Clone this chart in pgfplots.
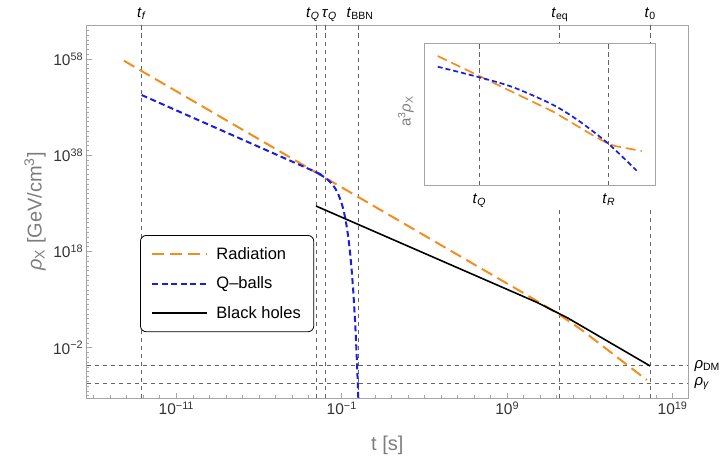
\documentclass[border=0pt]{standalone}
\usepackage{fontspec}
\setmainfont{Liberation Sans}
\usepackage{pgfplots}
\pgfplotsset{compat=1.18}

\definecolor{radorange}{RGB}{242,142,28}
\definecolor{qblue}{RGB}{25,30,225}
\definecolor{framegray}{RGB}{165,165,165}
\definecolor{refgray}{RGB}{100,100,100}
\definecolor{labelgray}{RGB}{125,125,125}

\tikzset{
  refline/.style={refgray, line width=0.8pt, dash pattern=on 4.5pt off 3.5pt},
  toplab/.style={anchor=base, yshift=8pt, font=\fontsize{15}{17}\selectfont},
}

\begin{document}
\begin{tikzpicture}
\useasboundingbox (-86.7pt,-58pt) rectangle (640.3pt,398pt);
% main axis: log10 t on x, log10 rho on y
\begin{axis}[
  at={(0pt,0pt)}, anchor=south west,
  scale only axis, width=601.3pt, height=373pt,
  xmin=-16.42, xmax=19.93, ymin=-12.46, ymax=65.1,
  clip mode=individual,
  axis line style={framegray, line width=0.9pt},
  tick style={framegray, line width=0.7pt},
  tick align=inside, tick pos=left,
  major tick length=5pt, minor tick length=2.7pt,
  xtick={-11,-1,9,19},
  xticklabels={10\textsuperscript{−11},10\textsuperscript{−1},10\textsuperscript{9},10\textsuperscript{19}},
  minor xtick={-16,...,19},
  ytick={-2,18,38,58},
  yticklabels={10\textsuperscript{−2},10\textsuperscript{18},10\textsuperscript{38},10\textsuperscript{58}},
  minor ytick={-12,...,65},
  tick label style={font=\fontsize{15.5}{18}\selectfont, black!80},
  xlabel={t [s]},
  ylabel={\textit{ρ}\textsubscript{X} [GeV/cm\textsuperscript{3}]},
  every axis x label/.style={at={(axis description cs:0.5,-0.126)}, anchor=center,
    font=\fontsize{20}{24}\selectfont, labelgray},
  every axis y label/.style={at={(axis description cs:-0.086,0.5)}, anchor=center, rotate=90,
    font=\fontsize{20}{24}\selectfont, labelgray},
  legend style={at={(axis description cs:0.0887,0.437)}, anchor=north west,
    draw=black, line width=0.8pt, rounded corners=6pt, fill=white,
    font=\fontsize{16.5}{19}\selectfont, inner xsep=11pt, inner ysep=10pt, row sep=12pt},
  legend cell align=left,
  legend image code/.code={\draw[#1] (0pt,0pt) -- (55pt,0pt); \path (61pt,0pt);},
]
% reference lines
\addplot[refline, forget plot] coordinates {(-13.1,-12.46) (-13.1,65.1)};
\addplot[refline, forget plot] coordinates {(-2.56,-12.46) (-2.56,65.1)};
\addplot[refline, forget plot] coordinates {(-2.0,-12.46) (-2.0,65.1)};
\addplot[refline, forget plot] coordinates {(0.0,-12.46) (0.0,65.1)};
\addplot[refline, forget plot] coordinates {(12.18,-12.46) (12.18,65.1)};
\addplot[refline, forget plot] coordinates {(17.64,-12.46) (17.64,65.1)};
\addplot[refline, forget plot] coordinates {(-16.42,-5.74) (19.93,-5.74)};
\addplot[refline, forget plot] coordinates {(-16.42,-9.48) (19.93,-9.48)};

\addplot[radorange, line width=2pt, dash pattern=on 12pt off 6pt] coordinates {
  (-14.17,57.67) (10,9.33) (11,7.3) (12,5.2) (12.7,3.6) (13.5,1.7) (17.44,-8.72)
};
\addlegendentry{Radiation}
\addplot[qblue, line width=2pt, dash pattern=on 6pt off 3.5pt, smooth, tension=0.3] coordinates {
  (-13.1,50.54) (-2.62,34.6) (-2.3,34.0) (-2.0,33.34) (-1.8,32.78) (-1.61,32.12)
  (-1.4,31.14) (-1.2,29.83) (-1.0,27.93) (-0.85,25.92) (-0.7,23.16) (-0.6,20.77)
  (-0.5,17.79) (-0.4,14.08) (-0.3,9.45) (-0.2,3.67) (-0.15,0.25) (-0.1,-3.58)
  (-0.04,-8.77) (0.0,-12.66) (0.02,-14.7)
};
\addlegendentry{Q‒balls}
\addplot[black, line width=1.6pt] coordinates {
  (-2.56,27.46) (10.8,7.42) (11.7,5.85) (12.6,4.3) (17.64,-5.8)
};
\addlegendentry{Black holes}

\node[toplab] at (axis cs:-13.1,65.1) {\textit{t}\textsubscript{\textit{f}}};
\node[toplab] at (axis cs:-2.75,65.1) {\textit{t}\textsubscript{\textit{Q}}};
\node[toplab] at (axis cs:-1.75,65.1) {\textit{τ}\textsubscript{\textit{Q}}};
\node[toplab] at (axis cs:0.1,65.1) {\textit{t}\textsubscript{BBN}};
\node[toplab] at (axis cs:12.18,65.1) {\textit{t}\textsubscript{eq}};
\node[toplab] at (axis cs:17.64,65.1) {\textit{t}\textsubscript{0}};
\node[anchor=west, xshift=3pt, font=\fontsize{15}{17}\selectfont] at (axis cs:19.93,-5.74) {\textit{ρ}\textsubscript{DM}};
\node[anchor=west, xshift=3pt, font=\fontsize{15}{17}\selectfont] at (axis cs:19.93,-9.48) {\textit{ρ}\textsubscript{\textit{γ}}};
\end{axis}

% white patch behind the inset
\fill[white] (308.3pt,190pt) rectangle (570.3pt,354.7pt);

% inset: a^3 rho_X, unitless
\begin{axis}[
  at={(337.3pt,213pt)}, anchor=south west,
  scale only axis, width=231pt, height=141.7pt,
  xmin=0, xmax=231, ymin=0, ymax=141.7,
  xtick=\empty, ytick=\empty,
  clip mode=individual,
  axis line style={framegray, line width=0.9pt},
  ylabel={a\textsuperscript{3}\textit{ρ}\textsubscript{X}},
  every axis y label/.style={at={(axis description cs:-0.078,0.52)}, anchor=center, rotate=90,
    font=\fontsize{15}{17}\selectfont, labelgray},
]
\addplot[refline] coordinates {(55.3,0) (55.3,141.7)};
\addplot[refline] coordinates {(184.7,0) (184.7,141.7)};
\addplot[radorange, line width=1.7pt, dash pattern=on 10pt off 5pt] coordinates {
  (13.7,129) (55.3,109) (129.3,73.3) (170,49) (184.7,41) (192,38.8) (205,36.3) (217.7,34)
};
\addplot[qblue, line width=1.7pt, dash pattern=on 5pt off 3pt, smooth] coordinates {
  (13.7,118.3) (55.3,107.7) (89.3,97.7) (129.3,80) (156,63.3) (184.7,41) (212.7,14.3)
};
\node[anchor=north, yshift=-5pt, font=\fontsize{15}{17}\selectfont] at (axis cs:55.3,0) {\textit{t}\textsubscript{\textit{Q}}};
\node[anchor=north, yshift=-5pt, font=\fontsize{15}{17}\selectfont] at (axis cs:184.7,0) {\textit{t}\textsubscript{\textit{R}}};
\end{axis}
\end{tikzpicture}
\end{document}
